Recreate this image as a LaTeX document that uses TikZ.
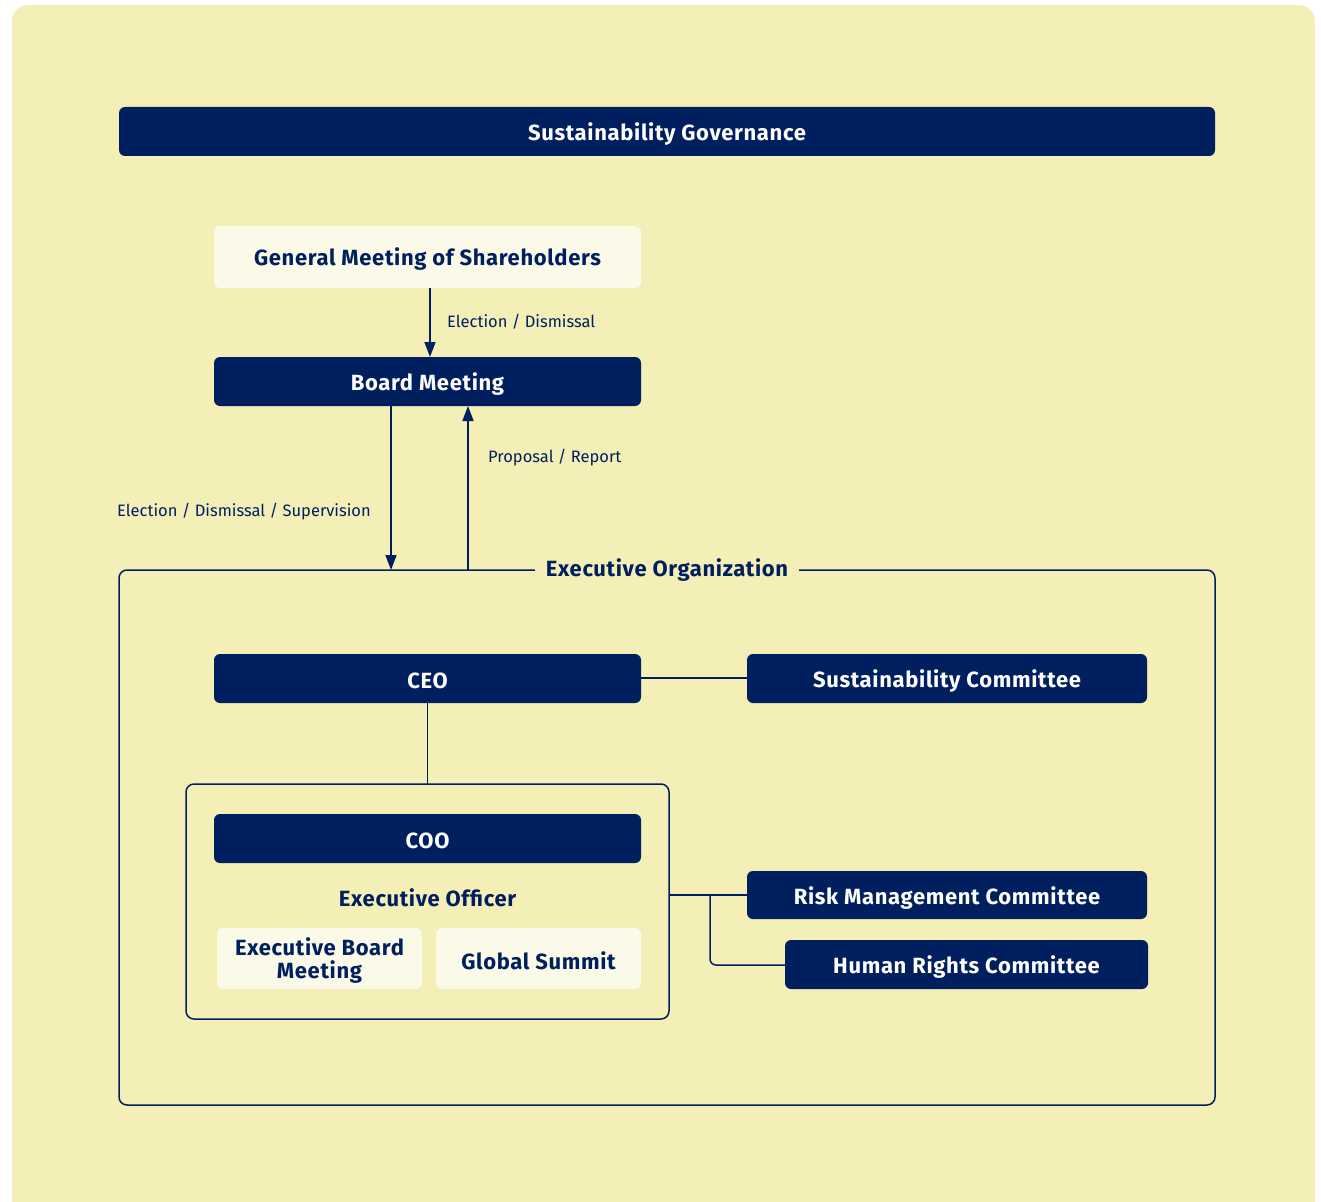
\documentclass[tikz,border=0pt]{standalone}
\usepackage{fontspec}
\setmainfont{Fira Sans}
\newfontfamily\headfont{Fira Sans}[LetterSpace=3]
\usetikzlibrary{arrows.meta}
\definecolor{bgy}{HTML}{F4EFB6}
\definecolor{navy}{HTML}{001F5F}
\definecolor{lightbox}{HTML}{FBF9E8}
\tikzset{
  x=1pt, y=-1pt,
  darkbox/.style={fill=navy, rounded corners=6pt},
  lightbx/.style={fill=lightbox, rounded corners=6pt},
  wtxt/.style={text=white, font=\headfont\bfseries\fontsize{22}{24}\selectfont},
  ntxt/.style={text=navy, font=\headfont\bfseries\fontsize{22}{24}\selectfont},
  conn/.style={draw=navy, line width=1.5pt},
  arr/.style={conn, -{Triangle[length=15pt,width=11pt]}},
  lbl/.style={text=navy, font=\fontsize{16.5}{19}\selectfont, inner sep=0pt},
  frame/.style={draw=navy, line width=1.5pt, rounded corners=8pt},
}
\begin{document}
\begin{tikzpicture}
\useasboundingbox (0,0) rectangle (1321,1201);
\begin{scope}
\clip (0,0) rectangle (1321,1201);
\fill[bgy, rounded corners=16pt] (12,5) rectangle (1315,1240);
\end{scope}

% title
\path[darkbox] (119,107) rectangle (1215,156);
\node[wtxt] (title) at (667,134) {Sustainability Governance};

% top nodes
\path[lightbx] (214,226) rectangle (641,288);
\node[ntxt] (gmstext) at (427.5,259) {General Meeting of Shareholders};
\coordinate (gms) at (430,288);
\path[darkbox] (214,357) rectangle (641,406);
\node[wtxt] (board) at (427.5,384) {Board Meeting};

% executive organisation frame
\path[frame] (119,570) rectangle (1215,1105);
\node[fill=bgy, ntxt, inner xsep=11pt] (eo) at (667,570) {Executive Organization};

% arrows
\coordinate (bmA) at (430,357);
\draw[arr] (gms) -- (bmA);
\node[lbl, anchor=west] (l1) at (447,322) {Election / Dismissal};
\coordinate (dTop) at (391,406);
\coordinate (dBot) at (391,570);
\draw[arr] (dTop) -- (dBot);
\node[lbl, anchor=east] (l2) at (371,512) {Election / Dismissal / Supervision};
\coordinate (uTop) at (468,406);
\coordinate (uBot) at (468,570);
\draw[arr] (uBot) -- (uTop);
\node[lbl, anchor=west] (l3) at (488,458) {Proposal / Report};

% CEO and sustainability committee
\path[darkbox] (214,654) rectangle (641,703);
\node[wtxt] (ceo) at (427.5,681) {CEO};
\path[darkbox] (747,654) rectangle (1147,703);
\node[wtxt] (sc) at (947,681) {Sustainability Committee};
\coordinate (ceoR) at (641,678);
\coordinate (scL) at (747,678);
\draw[conn] (ceoR) -- (scL);

% executive officer frame
\path[frame] (186,784) rectangle (669,1019);
\coordinate (ceoB) at (427.5,703);
\coordinate (eofT) at (427.5,784);
\draw[conn] (ceoB) -- (eofT);

\path[darkbox] (214,814) rectangle (641,863);
\node[wtxt] (coo) at (427.5,841) {COO};
\node[ntxt] (eoff) at (427.5,898) {Executive Officer};
\path[lightbx] (217,928) rectangle (422,989);
\node[ntxt, align=center, font=\headfont\bfseries\fontsize{22}{23}\selectfont] (ebm) at (319.5,961) {Executive Board\\Meeting};
\path[lightbx] (436,928) rectangle (641,989);
\node[ntxt] (gs) at (538.5,961) {Global Summit};

% risk and human rights
\path[darkbox] (747,871) rectangle (1147,919);
\node[wtxt] (risk) at (947,898) {Risk Management Committee};
\path[darkbox] (785,940) rectangle (1148,989);
\node[wtxt] (hr) at (966.5,967) {Human Rights Committee};
\coordinate (eofR) at (669,895);
\coordinate (riskL) at (747,895);
\coordinate (br) at (710,895);
\coordinate (hrL) at (785,965);
\draw[conn] (eofR) -- (riskL);
\draw[conn, rounded corners=6pt] (br) |- (hrL);
\end{tikzpicture}
\end{document}
